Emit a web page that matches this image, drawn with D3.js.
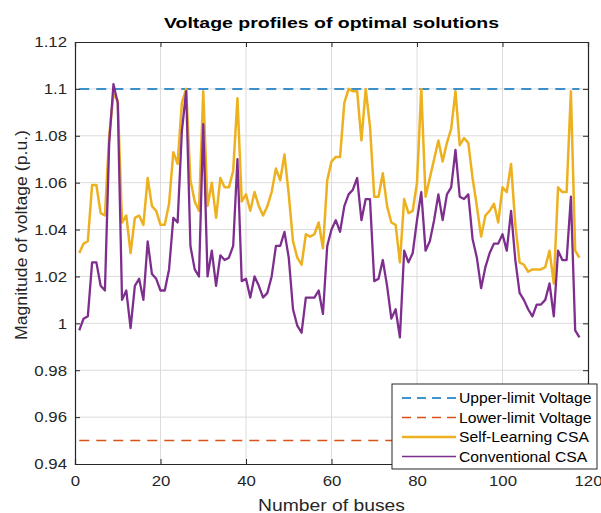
<!DOCTYPE html>
<html><head><meta charset="utf-8">
<script src="https://cdn.jsdelivr.net/npm/d3@7"></script>
<style>
body{margin:0;background:#fff;}
svg{display:block;font-family:"Liberation Sans",Arial,Helvetica,sans-serif;}
</style></head>
<body><svg id="c" width="601" height="513"></svg>
<script>
const title = "Voltage profiles of optimal solutions";
const xLabel = "Number of buses";
const yLabel = "Magnitude of voltage (p.u.)";
const xTicks = [0,20,40,60,80,100,120];
const yTicks = [0.94,0.96,0.98,1.0,1.02,1.04,1.06,1.08,1.1,1.12];
const upperLimit = 1.1;
const lowerLimit = 0.95;
const seriesNames = ["Upper-limit Voltage","Lower-limit Voltage","Self-Learning CSA","Conventional CSA"];
const selfLearning = [
1.030,1.034,1.035,1.059,1.059,1.047,1.046,1.080,1.098,1.095,
1.043,1.046,1.030,1.045,1.046,1.042,1.062,1.050,1.048,1.042,
1.042,1.051,1.073,1.068,1.094,1.100,1.061,1.052,1.048,1.099,
1.050,1.060,1.045,1.062,1.058,1.058,1.065,1.096,1.052,1.055,
1.048,1.056,1.050,1.046,1.050,1.056,1.066,1.061,1.072,1.055,
1.035,1.028,1.025,1.038,1.037,1.038,1.043,1.032,1.061,1.069,
1.071,1.071,1.094,1.100,1.099,1.099,1.078,1.100,1.084,1.054,
1.054,1.064,1.050,1.043,1.042,1.026,1.053,1.047,1.048,1.060,
1.100,1.054,1.062,1.070,1.078,1.069,1.077,1.083,1.099,1.076,
1.079,1.077,1.062,1.050,1.037,1.046,1.048,1.051,1.043,1.058,
1.056,1.068,1.042,1.026,1.025,1.022,1.023,1.023,1.023,1.024,
1.031,1.017,1.058,1.056,1.056,1.099,1.031,1.028];
const conventional = [
0.997,1.002,1.003,1.026,1.026,1.016,1.014,1.077,1.102,1.094,
1.010,1.014,0.998,1.016,1.019,1.010,1.035,1.021,1.019,1.014,
1.014,1.023,1.045,1.043,1.082,1.099,1.033,1.023,1.020,1.085,
1.020,1.031,1.016,1.029,1.027,1.028,1.033,1.070,1.018,1.019,
1.011,1.020,1.016,1.011,1.013,1.020,1.033,1.033,1.039,1.028,
1.006,0.999,0.996,1.011,1.011,1.011,1.014,1.004,1.033,1.040,
1.044,1.039,1.050,1.055,1.057,1.062,1.044,1.053,1.053,1.018,
1.019,1.027,1.016,1.002,1.006,0.994,1.031,1.026,1.030,1.044,
1.056,1.031,1.035,1.044,1.055,1.044,1.055,1.058,1.074,1.054,
1.053,1.055,1.036,1.028,1.015,1.024,1.030,1.034,1.034,1.038,
1.031,1.048,1.027,1.013,1.010,1.006,1.003,1.008,1.008,1.010,
1.017,1.003,1.031,1.027,1.027,1.054,0.997,0.994];

const colors = {upper:"#0072BD", lower:"#D95319", self:"#EDB120", conv:"#7E2F8E"};
const svg = d3.select("#c");
const L=75,R=588,T=42,B=464;
const x = d3.scaleLinear().domain([0,120]).range([L,R]);
const y = d3.scaleLinear().domain([0.94,1.12]).range([B,T]);
const ink="#262626";
const STRETCH = 1.12;
function stretch(sel, f){
  sel.each(function(){
    const w = this.getComputedTextLength();
    d3.select(this).attr("textLength", w*f).attr("lengthAdjust","spacingAndGlyphs");
  });
}

// grid
const g = svg.append("g");
g.selectAll(".gx").data(xTicks.slice(1,-1)).join("line")
 .attr("x1",d=>x(d)).attr("x2",d=>x(d)).attr("y1",T).attr("y2",B)
 .attr("stroke","#dcdcdc").attr("stroke-width",1);
g.selectAll(".gy").data(yTicks.slice(1,-1)).join("line")
 .attr("y1",d=>y(d)).attr("y2",d=>y(d)).attr("x1",L).attr("x2",R)
 .attr("stroke","#dcdcdc").attr("stroke-width",1);

// limit lines
const idx = d3.range(1, selfLearning.length+1);
svg.append("line").attr("x1",x(1)).attr("x2",x(118)).attr("y1",y(upperLimit)).attr("y2",y(upperLimit))
 .attr("stroke",colors.upper).attr("stroke-width",1.5).attr("stroke-dasharray","10,7");
svg.append("line").attr("x1",x(1)).attr("x2",x(118)).attr("y1",y(lowerLimit)).attr("y2",y(lowerLimit))
 .attr("stroke",colors.lower).attr("stroke-width",1.5).attr("stroke-dasharray","10,7");

const line = d3.line().x((d,i)=>x(idx[i])).y(d=>y(d));
svg.append("path").datum(selfLearning).attr("d",line).attr("fill","none")
 .attr("stroke",colors.self).attr("stroke-width",2.5).attr("stroke-linejoin","round");
svg.append("path").datum(conventional).attr("d",line).attr("fill","none")
 .attr("stroke",colors.conv).attr("stroke-width",2.3).attr("stroke-linejoin","round");

// axes box
const ax = svg.append("g").attr("transform",`translate(0,${B})`)
 .call(d3.axisBottom(x).tickValues(xTicks).tickSize(-5).tickPadding(11).tickFormat(d3.format("d")));
const axTop = svg.append("g").attr("transform",`translate(0,${T})`)
 .call(d3.axisTop(x).tickValues(xTicks).tickSize(-5).tickFormat(""));
const ay = svg.append("g").attr("transform",`translate(${L},0)`)
 .call(d3.axisLeft(y).tickValues(yTicks).tickSize(-5).tickPadding(8).tickFormat(d=>String(+d.toFixed(2))));
const ayR = svg.append("g").attr("transform",`translate(${R},0)`)
 .call(d3.axisRight(y).tickValues(yTicks).tickSize(-5).tickFormat(""));
[ax,axTop,ay,ayR].forEach(a=>{
  a.select(".domain").attr("stroke",ink).attr("stroke-width",1.2);
  a.selectAll(".tick line").attr("stroke",ink);
  a.selectAll("text").attr("fill",ink).style("font-size","15px").style("font-family","'Liberation Sans',Arial,sans-serif");
  stretch(a.selectAll("text"), STRETCH);
});

// titles
svg.append("text").attr("x",(L+R)/2).attr("y",28).attr("text-anchor","middle")
 .style("font-weight","bold").style("font-size","15.5px").attr("fill","#000").text(title)
 .attr("textLength",335).attr("lengthAdjust","spacingAndGlyphs");
svg.append("text").attr("x",(L+R)/2).attr("y",511).attr("text-anchor","middle")
 .style("font-size","16px").attr("fill",ink).text(xLabel)
 .attr("textLength",147).attr("lengthAdjust","spacingAndGlyphs");
svg.append("text").attr("transform",`translate(27,235) rotate(-90)`).attr("text-anchor","middle")
 .style("font-size","16.5px").attr("fill",ink).text(yLabel)
 .attr("textLength",210).attr("lengthAdjust","spacingAndGlyphs");

// legend
const lg = svg.append("g");
lg.append("rect").attr("x",392).attr("y",384).attr("width",205).attr("height",85)
 .attr("fill","#fff").attr("stroke",ink).attr("stroke-width",1);
const legItems = [
 {name:seriesNames[0], c:colors.upper, w:1.5, dash:"9,6"},
 {name:seriesNames[1], c:colors.lower, w:1.5, dash:"9,6"},
 {name:seriesNames[2], c:colors.self, w:2.5, dash:null},
 {name:seriesNames[3], c:colors.conv, w:1.5, dash:null}];
legItems.forEach((d,i)=>{
  const yy = 398 + i*19.5;
  lg.append("line").attr("x1",402).attr("x2",456).attr("y1",yy).attr("y2",yy)
   .attr("stroke",d.c).attr("stroke-width",d.w).attr("stroke-dasharray",d.dash);
  const t = lg.append("text").attr("x",459).attr("y",yy+5).style("font-size","14px").attr("fill","#000").text(d.name);
  stretch(t, STRETCH);
});
</script></body></html>
